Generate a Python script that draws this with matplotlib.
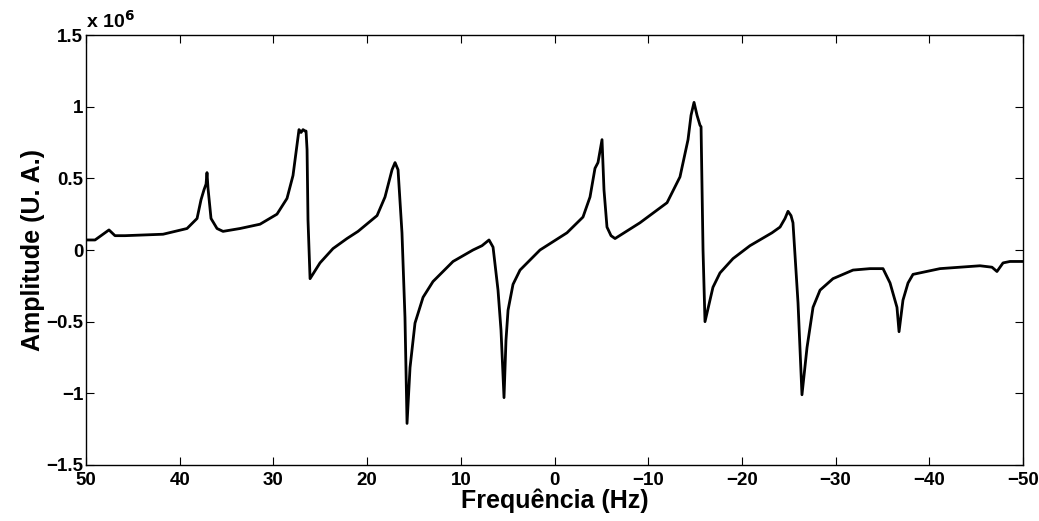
import numpy as np
import matplotlib
matplotlib.use("Agg")
import matplotlib.pyplot as plt

plt.rcParams['font.family'] = ['Liberation Sans', 'DejaVu Sans']
plt.rcParams['font.weight'] = 'bold'

# frequency (Hz) and amplitude (x 1e6)
freq = [50.00, 49.04, 48.40, 47.55, 46.91, 45.84, 41.78, 39.22, 38.15, 37.73,
        37.41, 37.19, 37.09, 36.98, 36.66, 36.02, 35.38, 33.56, 31.43, 29.62,
        28.55, 27.91, 27.59, 27.27, 27.05, 26.84, 26.63, 26.52, 26.41, 26.31,
        26.09, 25.03, 23.64, 22.15, 20.97, 18.94, 18.09, 17.34, 17.02, 16.70,
        16.28, 15.96, 15.74, 15.42, 14.89, 14.03, 12.97, 10.83, 8.70, 7.74,
        6.99, 6.56, 6.03, 5.71, 5.39, 5.18, 4.96, 4.43, 3.68, 1.55,
        -1.33, -3.04, -3.79, -4.32, -4.64, -5.07, -5.28, -5.60, -6.03, -6.46,
        -9.12, -12.01, -13.39, -14.25, -14.57, -14.89, -15.21, -15.53, -15.64, -15.85,
        -16.06, -16.91, -17.66, -19.05, -20.86, -23.21, -24.07, -24.60, -24.92, -25.24,
        -25.45, -25.99, -26.41, -26.95, -27.59, -28.34, -29.72, -31.86, -33.67, -35.06,
        -35.81, -36.55, -36.77, -37.19, -37.73, -38.26, -41.14, -45.41, -46.69, -47.22,
        -47.87, -48.61, -50.00]
amp = [0.07, 0.07, 0.10, 0.14, 0.10, 0.10, 0.11, 0.15, 0.22, 0.35,
       0.42, 0.46, 0.54, 0.43, 0.22, 0.15, 0.13, 0.15, 0.18, 0.25,
       0.36, 0.52, 0.68, 0.84, 0.82, 0.84, 0.83, 0.83, 0.70, 0.21,
       -0.20, -0.09, 0.01, 0.08, 0.13, 0.24, 0.37, 0.56, 0.61, 0.56,
       0.12, -0.47, -1.21, -0.82, -0.51, -0.33, -0.22, -0.08, 0.00, 0.03,
       0.07, 0.02, -0.28, -0.56, -1.03, -0.63, -0.42, -0.24, -0.14, 0.00,
       0.12, 0.23, 0.37, 0.57, 0.61, 0.77, 0.42, 0.16, 0.10, 0.08,
       0.19, 0.33, 0.51, 0.77, 0.94, 1.03, 0.94, 0.87, 0.86, 0.00,
       -0.50, -0.26, -0.16, -0.06, 0.03, 0.12, 0.16, 0.22, 0.27, 0.24,
       0.19, -0.37, -1.01, -0.68, -0.40, -0.28, -0.20, -0.14, -0.13, -0.13,
       -0.23, -0.40, -0.57, -0.35, -0.23, -0.17, -0.13, -0.11, -0.12, -0.15,
       -0.09, -0.08, -0.08]

x_ticks = [50, 40, 30, 20, 10, 0, -10, -20, -30, -40, -50]
y_ticks = [-1.5, -1, -0.5, 0, 0.5, 1, 1.5]
y_labels = ['\u22121.5', '\u22121', '\u22120.5', '0', '0.5', '1', '1.5']

fig = plt.figure(figsize=(10.39, 5.21), dpi=100)
ax = fig.add_axes([0.0828, 0.1075, 0.9018, 0.8253])
ax.plot(freq, np.array(amp) * 1e6, color='black', linewidth=2.0,
        solid_joinstyle='round')

ax.set_xlim(50, -50)
ax.set_ylim(-1.5e6, 1.5e6)
ax.set_xticks(x_ticks)
ax.set_xticklabels(['\u2212' + str(-t) if t < 0 else str(t) for t in x_ticks])
ax.set_yticks([v * 1e6 for v in y_ticks])
ax.set_yticklabels(y_labels)
ax.tick_params(direction='in', top=True, right=True, length=6, width=0.8,
               labelsize=13.5)
ax.tick_params(axis='x', pad=5)
ax.tick_params(axis='y', pad=2)
for s in ax.spines.values():
    s.set_linewidth(1.0)

ax.set_xlabel('Frequência (Hz)', fontsize=18, fontweight='bold', labelpad=0)
ax.set_ylabel('Amplitude (U. A.)', fontsize=18, fontweight='bold', labelpad=1)
ax.text(0.0, 1.008, 'x 10$^{\\mathbf{6}}$', transform=ax.transAxes, fontsize=14,
        fontweight='bold', ha='left', va='bottom')

fig.savefig('out.png', dpi=100)
